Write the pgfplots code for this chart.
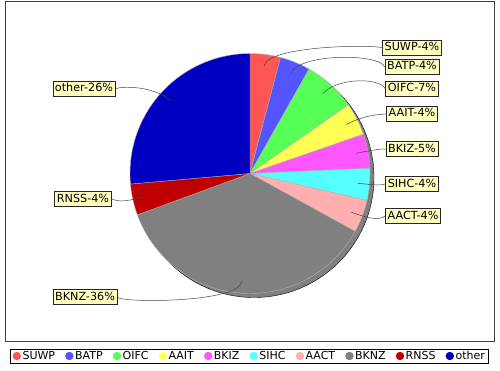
\documentclass[border=0pt]{standalone}
\usepackage{pgfplots}
\pgfplotsset{compat=1.18}
\usepackage{pgfplotstable}
\usepackage{fontspec}
\setmainfont{DejaVu Sans}
\definecolor{sSUWP}{RGB}{255,85,85}
\definecolor{sBATP}{RGB}{85,85,255}
\definecolor{sOIFC}{RGB}{85,255,85}
\definecolor{sAAIT}{RGB}{255,255,85}
\definecolor{sBKIZ}{RGB}{255,85,255}
\definecolor{sSIHC}{RGB}{85,255,255}
\definecolor{sAACT}{RGB}{255,175,175}
\definecolor{sBKNZ}{RGB}{128,128,128}
\definecolor{sRNSS}{RGB}{192,0,0}
\definecolor{sother}{RGB}{0,0,192}
\definecolor{lblbg}{RGB}{255,255,192}
\definecolor{linkc}{RGB}{70,70,70}

% pie slices: value and cumulative start in percent, label centre in pixels
\pgfplotstableread{
idx name  value start pct col    lx  ly  anc  cx  cy
0   SUWP  4.1   0.0   4   sSUWP  412 48  west 250 196.5
1   BATP  4.1   4.1   4   sBATP  412 67  west 250 196.5
2   OIFC  7.1   8.2   7   sOIFC  412 89  west 250 196.5
3   AAIT  4.4   15.3  4   sAAIT  412 114 west 250 196.5
4   BKIZ  4.6   19.7  5   sBKIZ  412 149 west 250 196.5
5   SIHC  4.3   24.3  4   sSIHC  412 184 west 250 196.5
6   AACT  4.4   28.6  4   sAACT  413 216 west 250 196.5
7   BKNZ  36.4  33.0  36  sBKNZ  85  297 east 250 196.5
8   RNSS  4.2   69.4  4   sRNSS  83  199 east 250 196.5
9   other 26.4  73.6  26  sother 84  89  east 250 196.5
}\slices

\newcommand\getslice[2]{\pgfplotstablegetelem{\pgfplotspointmeta}{#1}\of\slices\let#2\pgfplotsretval}

\begin{document}
\begin{tikzpicture}
\useasboundingbox (0,0) rectangle (500pt,370pt);
\begin{axis}[
  at={(0,0)}, anchor=south west,
  width=500pt, height=370pt, scale only axis,
  xmin=0, xmax=500, ymin=0, ymax=370,
  hide axis, clip=false,
  legend columns=10,
  legend style={at={(axis cs:249.5,14)}, anchor=center, draw=black, line width=0.8pt,
    fill=white, inner xsep=2pt, inner ysep=1pt,
    font=\fontsize{11}{13}\selectfont,
    nodes={inner xsep=1.5pt, inner ysep=1pt},
    /tikz/every even column/.append style={column sep=8.6pt}},
  legend image code/.code={\fill[#1, draw=none] (4.5pt,0pt) circle (4.2pt);},
]
% frame
\draw[black!75, line width=1pt] (axis cs:5,368) rectangle (axis cs:494,29);

% shadow of the pie
\addplot[forget plot, only marks, mark=*, mark size=120pt,
  mark options={fill=gray, draw=none}] coordinates {(254,192.5)};

% slices, links and labels
\addplot[forget plot, scatter, only marks, mark=*, mark size=0pt,
  point meta=explicit symbolic,
  scatter/@pre marker code/.code={%
    \getslice{value}\valv
    \getslice{start}\startv
    \getslice{pct}\pctv
    \getslice{col}\colv
    \getslice{name}\namev
    \getslice{lx}\lxv
    \getslice{ly}\lyv
    \getslice{anc}\ancv
    \pgfmathsetmacro\aone{90-3.6*\startv}%
    \pgfmathsetmacro\atwo{90-3.6*(\startv+\valv)}%
    \pgfmathsetmacro\amid{90-3.6*(\startv+\valv/2)}%
    \pgfmathsetmacro\ldx{\lxv-250}%
    \pgfmathsetmacro\ldy{173.5-\lyv}%
    \pgfmathsetmacro\sgn{cos(\amid)>0 ? 1 : -1}%
    \pgfmathsetmacro\ancx{\sgn*130}%
    \pgfmathsetmacro\elby{130*sin(\amid)}%
    \fill[fill=\colv, draw=black!30, line width=0.4pt]
      (0pt,0pt) -- (\aone:120pt) arc[start angle=\aone, end angle=\atwo, radius=120pt] -- cycle;
    \node[fill=lblbg, draw=black!85, line width=0.5pt, inner xsep=2.2pt, inner ysep=2pt,
      text height=8.4pt, text depth=2.4pt, font=\fontsize{11.2}{13}\selectfont]
      (L) at (\ldx pt,\ldy pt) {\namev-\pctv\%};
    \draw[linkc, line width=0.5pt] (L.\ancv) .. controls (\ancx pt,\elby pt) and (\amid:130pt) .. (\amid:108pt);
  },
  scatter/@post marker code/.code={},
] table[x=cx, y=cy, meta=idx] {\slices};

\addlegendimage{fill=sSUWP}\addlegendentry{SUWP}
\addlegendimage{fill=sBATP}\addlegendentry{BATP}
\addlegendimage{fill=sOIFC}\addlegendentry{OIFC}
\addlegendimage{fill=sAAIT}\addlegendentry{AAIT}
\addlegendimage{fill=sBKIZ}\addlegendentry{BKIZ}
\addlegendimage{fill=sSIHC}\addlegendentry{SIHC}
\addlegendimage{fill=sAACT}\addlegendentry{AACT}
\addlegendimage{fill=sBKNZ}\addlegendentry{BKNZ}
\addlegendimage{fill=sRNSS}\addlegendentry{RNSS}
\addlegendimage{fill=sother}\addlegendentry{other}
\end{axis}
\end{tikzpicture}
\end{document}
